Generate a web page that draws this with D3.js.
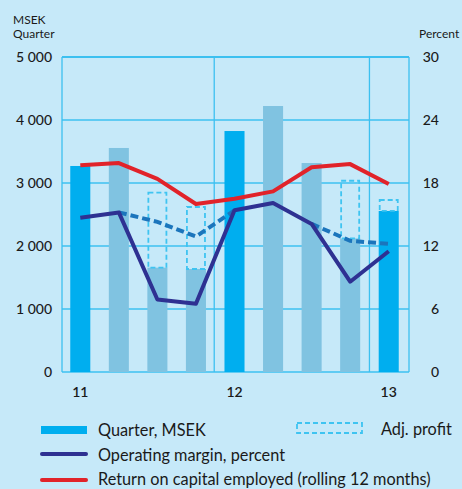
<!DOCTYPE html>
<html>
<head>
<meta charset="utf-8">
<script src="https://cdn.jsdelivr.net/npm/d3@7"></script>
<style>
  html, body { margin: 0; padding: 0; background: #c6e9f9; }
  svg { display: block; font-family: Lato, "Open Sans", sans-serif; }
</style>
</head>
<body>
<script>
// DATA

const quarters = ["Q1 11", "Q2 11", "Q3 11", "Q4 11", "Q1 12", "Q2 12", "Q3 12", "Q4 12", "Q1 13"];
const yearLabels = ["11", "", "", "", "12", "", "", "", "13"];
// operating profit per quarter, MSEK
const profit = [3270, 3556, 1656, 1635, 3825, 4222, 3317, 2120, 2556];
// adjusted profit (only where it differs)
const adjProfit = [null, null, 2846, 2619, null, null, null, 3036, 2730];
// operating margin, percent
const margin = [14.7, 15.2, 6.9, 6.5, 15.4, 16.1, 14.1, 8.6, 11.5];
// adjusted operating margin, percent
const adjMargin = [null, 15.2, 14.3, 12.9, 15.4, null, 14.1, 12.5, 12.2];
// return on capital employed, rolling 12 months
const roce = [19.7, 19.9, 18.4, 16.0, 16.5, 17.2, 19.5, 19.8, 17.9];

const leftTicks = [0, 1000, 2000, 3000, 4000, 5000];
const rightTicks = [0, 6, 12, 18, 24, 30];

// SIZES AND COLOURS
const w = 462, h = 489;
const pLeft = 62, pRight = 409, pTop = 57, pBottom = 372;

const cQ1 = "#00aeef", cQ = "#80c3e1", cGrid = "#3cc0f0";
const cMargin = "#2e3192", cRoce = "#e1232a", cAdj = "#1b75bc", cBox = "#3fc4f1";

const svg = d3.select("body").append("svg")
  .attr("width", w).attr("height", h);

// scales
const x = d3.scaleBand().domain(quarters).range([61, 408]).paddingInner(0.48).paddingOuter(0.24);
const yL = d3.scaleLinear().domain([0, 5000]).range([pBottom, pTop]);
const yR = d3.scaleLinear().domain([0, 30]).range([pBottom, pTop]);
const cx = (d, i) => x(quarters[i]) + x.bandwidth() / 2;

// horizontal gridlines
svg.append("g")
  .selectAll("line")
  .data(leftTicks)
  .join("line")
  .attr("x1", pLeft).attr("x2", pRight)
  .attr("y1", d => yL(d)).attr("y2", d => yL(d))
  .attr("stroke", cGrid)
  .attr("stroke-width", d => d === 5000 ? 2 : 1.3);

// side borders and year separators
const gap = (x.step() - x.bandwidth()) / 2;
const vLines = [pLeft, pRight, x(quarters[4]) - gap - 1, x(quarters[8]) - gap];
svg.append("g")
  .selectAll("line")
  .data(vLines)
  .join("line")
  .attr("x1", d => d).attr("x2", d => d)
  .attr("y1", pTop).attr("y2", pBottom)
  .attr("stroke", cGrid)
  .attr("stroke-width", 1.3);

// bars
svg.append("g")
  .selectAll("rect")
  .data(profit)
  .join("rect")
  .attr("x", (d, i) => x(quarters[i]))
  .attr("y", d => yL(d))
  .attr("width", x.bandwidth())
  .attr("height", d => yL(0) - yL(d))
  .attr("fill", (d, i) => quarters[i].startsWith("Q1") ? cQ1 : cQ);

// adjusted profit boxes
svg.append("g")
  .selectAll("rect")
  .data(adjProfit.map((d, i) => ({ d, i })).filter(o => o.d !== null))
  .join("rect")
  .attr("x", o => x(quarters[o.i]) + 1)
  .attr("y", o => yL(o.d))
  .attr("width", x.bandwidth() - 2)
  .attr("height", o => yL(profit[o.i]) - yL(o.d))
  .attr("fill", "none")
  .attr("stroke", cBox)
  .attr("stroke-width", 1.8)
  .attr("stroke-dasharray", "5,3");

// lines
const line = d3.line()
  .defined(d => d !== null)
  .x(cx)
  .y(d => yR(d));

svg.append("path")
  .attr("d", line(adjMargin))
  .attr("fill", "none")
  .attr("stroke", cAdj)
  .attr("stroke-width", 4)
  .attr("stroke-dasharray", "8,4");

svg.append("path")
  .attr("d", line(margin))
  .attr("fill", "none")
  .attr("stroke", cMargin)
  .attr("stroke-width", 4)
  .attr("stroke-linejoin", "round");

svg.append("path")
  .attr("d", line(roce))
  .attr("fill", "none")
  .attr("stroke", cRoce)
  .attr("stroke-width", 4)
  .attr("stroke-linejoin", "round");

// axes labels
const fmt = d => d3.format(",")(d).replace(",", " ");

svg.append("g")
  .selectAll("text")
  .data(leftTicks)
  .join("text")
  .attr("x", 52).attr("y", d => yL(d) + 5)
  .attr("text-anchor", "end")
  .attr("font-size", 14)
  .attr("font-weight", 500)
  .attr("fill", "#1a1a1a")
  .text(fmt);

svg.append("g")
  .selectAll("text")
  .data(rightTicks)
  .join("text")
  .attr("x", 439).attr("y", d => yR(d) + 5)
  .attr("text-anchor", "end")
  .attr("font-size", 14)
  .attr("font-weight", 500)
  .attr("fill", "#1a1a1a")
  .text(d => d);

svg.append("g")
  .selectAll("text")
  .data(yearLabels)
  .join("text")
  .attr("x", cx).attr("y", 397)
  .attr("text-anchor", "middle")
  .attr("font-size", 14)
  .attr("font-weight", 600)
  .attr("fill", "#1a1a1a")
  .text(d => d);

svg.append("text").attr("x", 13).attr("y", 24).attr("font-size", 12).attr("fill", "#1a1a1a").text("MSEK");
svg.append("text").attr("x", 13).attr("y", 38).attr("font-size", 12).attr("fill", "#1a1a1a").text("Quarter");
svg.append("text").attr("x", 419).attr("y", 38).attr("font-size", 12).attr("fill", "#1a1a1a").text("Percent");

// LEGEND
const lg = svg.append("g").attr("font-size", 16.3).attr("fill", "#1a1a1a");

lg.append("rect").attr("x", 41).attr("y", 426).attr("width", 46).attr("height", 8).attr("fill", cQ1);
lg.append("text").attr("x", 98).attr("y", 436).text("Quarter, MSEK");

lg.append("line").attr("x1", 42).attr("x2", 86).attr("y1", 454).attr("y2", 454)
  .attr("stroke", cMargin).attr("stroke-width", 4).attr("stroke-linecap", "round");
lg.append("text").attr("x", 98).attr("y", 461).text("Operating margin, percent");

lg.append("line").attr("x1", 42).attr("x2", 86).attr("y1", 480).attr("y2", 480)
  .attr("stroke", cRoce).attr("stroke-width", 4).attr("stroke-linecap", "round");
lg.append("text").attr("x", 98).attr("y", 485).text("Return on capital employed (rolling 12 months)");

lg.append("rect").attr("x", 297).attr("y", 423).attr("width", 65).attr("height", 10)
  .attr("fill", "none").attr("stroke", cBox).attr("stroke-width", 1.8).attr("stroke-dasharray", "5,3");
lg.append("text").attr("x", 381).attr("y", 435).text("Adj. profit");
</script>
</body>
</html>
